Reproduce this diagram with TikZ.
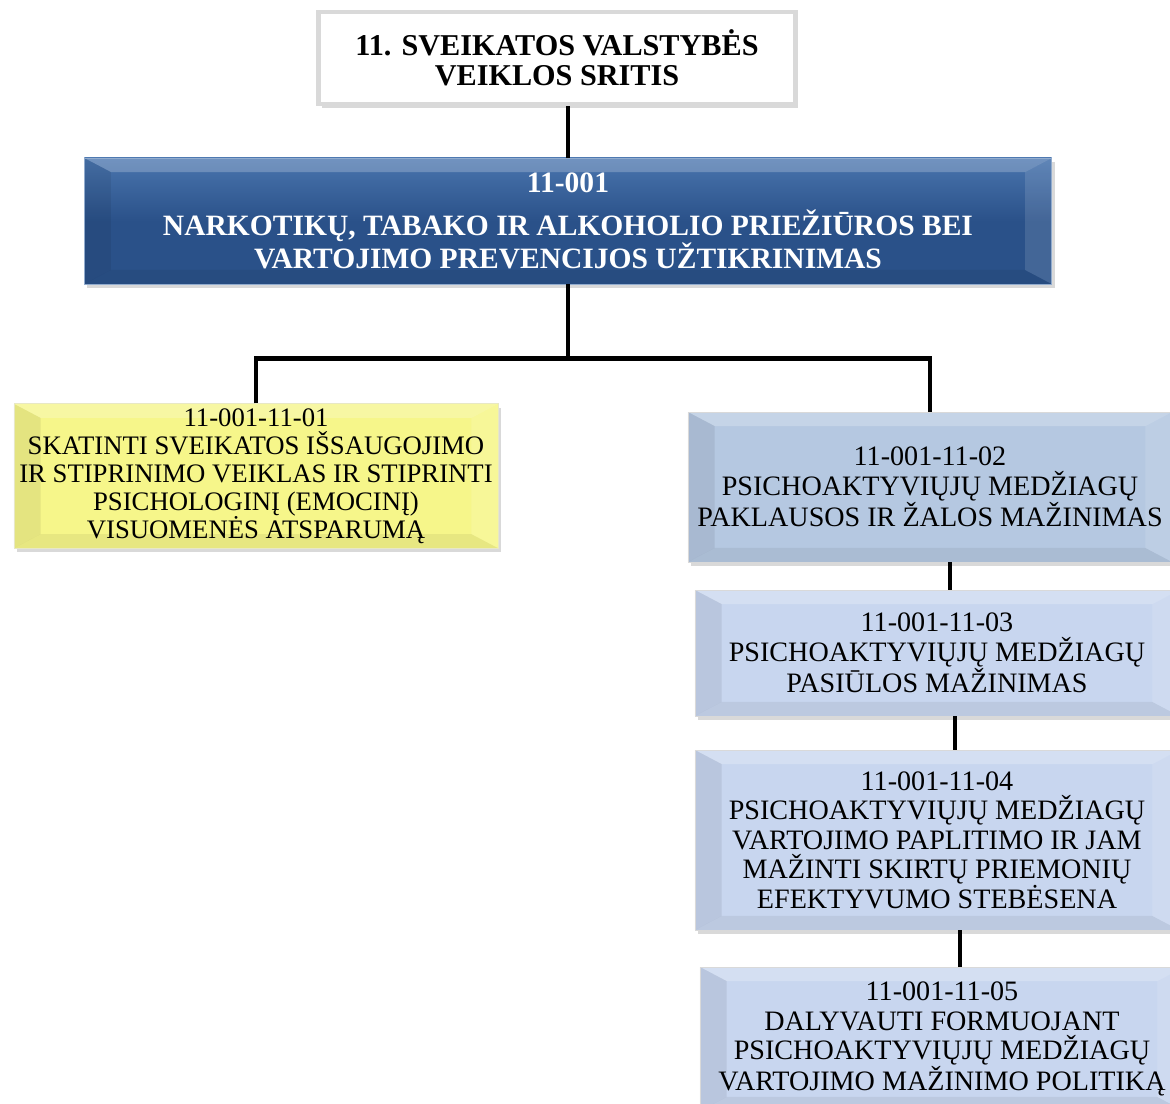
\documentclass[tikz,border=0pt]{standalone}
\usepackage{fontspec}
\setmainfont{Liberation Serif}
\usepackage{xcolor}
\usepackage{tikz}
\usetikzlibrary{positioning,shadows}
\definecolor{progblue}{HTML}{2A5189}
\definecolor{progtop}{HTML}{4A75AE}
\definecolor{goalyellow}{HTML}{F6F68A}
\definecolor{taskdark}{HTML}{B5C8E1}
\definecolor{tasklight}{HTML}{C8D6EF}

\begin{document}
\begin{tikzpicture}[x=0.025cm,y=-0.025cm,
    boxshadow/.style={drop shadow={opacity=0.3,shadow xshift=2pt,shadow yshift=-3pt}},
    bevel/.style={path picture={
        \coordinate (nw) at (path picture bounding box.north west);
        \coordinate (ne) at (path picture bounding box.north east);
        \coordinate (sw) at (path picture bounding box.south west);
        \coordinate (se) at (path picture bounding box.south east);
        \fill[white,opacity=0.22] (nw) -- (ne) -- ([shift={(-19pt,-10pt)}]ne) -- ([shift={(19pt,-10pt)}]nw) -- cycle;
        \fill[black,opacity=0.07] (nw) -- ([shift={(19pt,-10pt)}]nw) -- ([shift={(19pt,10pt)}]sw) -- (sw) -- cycle;
        \fill[white,opacity=0.12] (ne) -- ([shift={(-19pt,-10pt)}]ne) -- ([shift={(-19pt,10pt)}]se) -- (se) -- cycle;
        \fill[black,opacity=0.06] (sw) -- (se) -- ([shift={(-19pt,10pt)}]se) -- ([shift={(19pt,10pt)}]sw) -- cycle;}},
    areabox/.style={rectangle,draw=gray!30,line width=3.5pt,fill=white,boxshadow,
        font={\bfseries\fontsize{21.5}{21.3}\selectfont},align=center},
    progbox/.style={rectangle,draw=progtop!60,line width=0.6pt,top color=progtop,bottom color=progblue,
        middle color=progblue,boxshadow,bevel,text=white,
        font={\bfseries\fontsize{21}{22}\selectfont},align=center},
    goalbox/.style={rectangle,draw=goalyellow!80!black!40,line width=0.6pt,fill=goalyellow,boxshadow,bevel,
        font={\fontsize{19}{19.9}\selectfont},align=center},
    taskbox/.style={rectangle,draw=white!70!gray,line width=0.6pt,boxshadow,bevel,
        font={\fontsize{20}{21}\selectfont},align=center},
    link/.style={draw=black,line width=3.2pt}]
    	\clip (0,0) rectangle (1170,1104);
    	\useasboundingbox (0,0) rectangle (1170,1104);
    	
    	\node[areabox,minimum width=11.9cm,minimum height=2.3cm] 
    	(area) at (557,58) {11. SVEIKATOS VALSTYBĖS\\VEIKLOS SRITIS};
    	
    	\node[progbox,minimum width=24.18cm,minimum height=3.15cm] 
    	(prog) at (568,221) {11-001\\[8pt]NARKOTIKŲ, TABAKO IR ALKOHOLIO PRIEŽIŪROS BEI\\VARTOJIMO PREVENCIJOS UŽTIKRINIMAS};
    	
    	\node[goalbox,minimum width=12.1cm,minimum height=3.33cm] 
    	(g1) at (256,476) {11-001-11-01\\SKATINTI SVEIKATOS IŠSAUGOJIMO\\IR STIPRINIMO VEIKLAS IR STIPRINTI\\PSICHOLOGINĮ (EMOCINĮ)\\VISUOMENĖS ATSPARUMĄ};
    	
    	\foreach \i/\x/\y/\h/\col/\txt in {
    		2/930/487/3.75/taskdark/{11-001-11-02\\PSICHOAKTYVIŲJŲ MEDŽIAGŲ\\PAKLAUSOS IR ŽALOS MAŽINIMAS},
    		3/937/653/3.15/tasklight/{11-001-11-03\\PSICHOAKTYVIŲJŲ MEDŽIAGŲ\\PASIŪLOS MAŽINIMAS},
    		4/937/840/4.5/tasklight/{11-001-11-04\\PSICHOAKTYVIŲJŲ MEDŽIAGŲ\\VARTOJIMO PAPLITIMO IR JAM\\MAŽINTI SKIRTŲ PRIEMONIŲ\\EFEKTYVUMO STEBĖSENA},
    		5/942/1039/3.6/tasklight/{11-001-11-05\\DALYVAUTI FORMUOJANT\\PSICHOAKTYVIŲJŲ MEDŽIAGŲ\\VARTOJIMO MAŽINIMO POLITIKĄ}}{
    		\node[taskbox,fill=\col,minimum width=12.1cm,minimum height=\h cm] 
    		(g\i) at (\x,\y) {\txt};
    	}
    	
    	\draw[link] (prog.north |- area.south) -- (prog.north);
    	\draw[link] (prog.south) -- ++(0,74) coordinate (fork);
    	\draw[link] (g1.north) |- (fork) -| (g2.north);
    	
    	\foreach \a/\b/\s in {2/3/0.5,3/4/0.45,4/5/0.58}{
    		\draw[link] ([xshift=\s cm]g\a.south) -- ([xshift=\s cm]g\a.south |- g\b.north);}
    \end{tikzpicture}
\end{document}
